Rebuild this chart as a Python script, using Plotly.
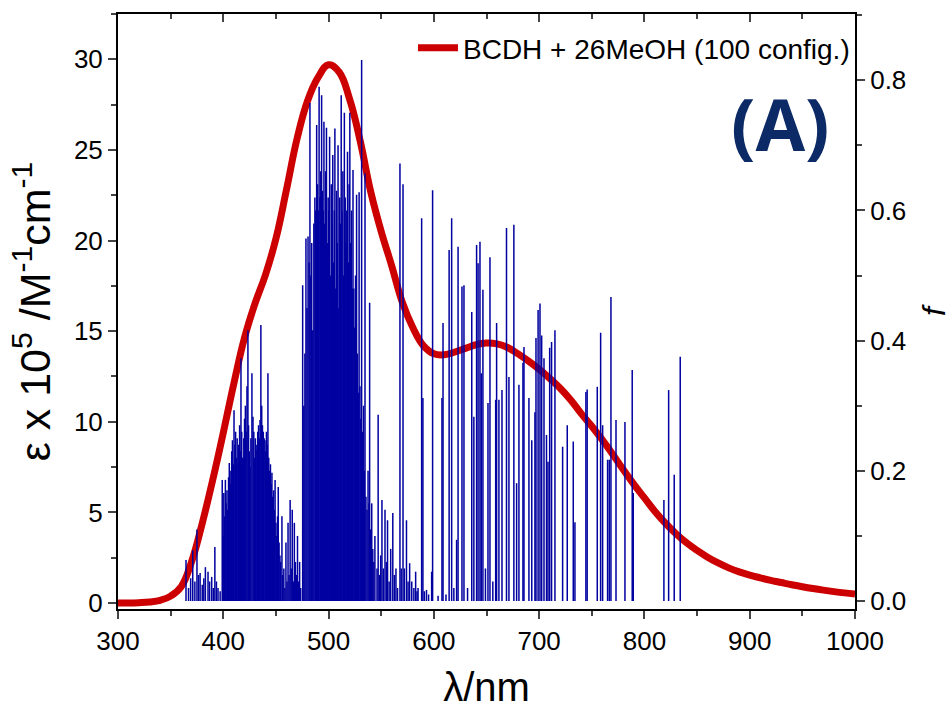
import plotly.graph_objects as go

# ---------------- data ----------------
# Broadened absorption spectrum (epsilon x 10^5 / M^-1 cm^-1), read every 10 nm
curve_nm = [300, 310, 320, 330, 340, 350, 360, 370, 380, 390, 400, 410, 420, 430, 440, 450,
            460, 470, 480, 490, 500, 510, 520, 530, 540, 550, 560, 570, 580, 590, 600, 610,
            620, 630, 640, 650, 660, 670, 680, 690, 700, 710, 720, 730, 740, 750, 760, 770,
            780, 790, 800, 810, 820, 830, 840, 850, 860, 870, 880, 890, 900, 910, 920, 930,
            940, 950, 960, 970, 980, 990, 1000]
curve_eps = [0.0, 0.0, 0.02, 0.06, 0.15, 0.38, 0.9, 2.3, 4.4, 6.8, 9.4, 12.1, 14.6, 16.5, 18.1, 20.1,
             22.8, 25.6, 27.7, 29.0, 29.7, 29.3, 27.8, 25.5, 22.7, 20.5, 18.6, 16.6, 15.2, 14.2, 13.75, 13.7,
             13.85, 14.05, 14.25, 14.35, 14.3, 14.1, 13.75, 13.35, 12.9, 12.4, 11.85, 11.2, 10.45, 9.75, 9.0, 8.2,
             7.35, 6.55, 5.8, 5.05, 4.4, 3.82, 3.32, 2.9, 2.53, 2.21, 1.94, 1.72, 1.54, 1.39, 1.25, 1.13,
             1.01, 0.9, 0.8, 0.71, 0.63, 0.56, 0.5]

# Stick spectrum: excitation wavelengths (nm) and oscillator strengths f
stick_nm = [
    364.6, 367.0, 369.0, 371.0, 373.0, 375.0, 376.5, 378.0, 380.0, 381.5, 383.0, 385.5, 387.0, 389.0,
    390.5, 392.0, 393.5, 395.0, 397.0,
    399.0, 399.8, 400.5, 401.2, 402.0, 402.7, 403.5, 404.2, 405.0, 405.7, 406.5, 407.2, 408.0, 408.7,
    409.5, 410.2, 411.0, 411.7, 412.5, 413.2, 414.0, 414.7, 415.5, 416.2, 416.8, 417.5, 418.2, 418.8,
    419.5, 420.2, 421.0, 421.7, 422.5, 423.4, 424.0, 424.7, 425.4, 426.2, 427.2, 428.2, 429.0, 429.7,
    430.5, 431.2, 432.0, 432.7, 433.5, 434.2, 434.9, 435.7, 436.5, 437.2, 438.0, 438.8, 439.6, 440.3,
    441.0, 441.7, 442.4, 443.2, 444.0, 444.8, 445.5, 446.2, 447.0, 447.8, 448.5, 449.2, 450.0, 450.8,
    451.5, 452.2, 453.0, 453.8, 454.5, 455.7, 456.5, 457.5, 458.5,
    459.5, 460.5, 461.5, 462.5, 463.5, 464.5, 465.5, 466.5, 467.5, 468.5, 469.5, 470.5, 471.5, 472.5,
    473.5,
    475.4, 476.5, 477.5, 478.5, 479.5, 480.5, 481.5, 482.3, 483.2, 484.0, 485.0, 486.0, 487.0, 487.8,
    488.7, 489.5, 490.2, 491.0, 491.8, 492.6, 493.4, 494.2, 495.0, 495.6, 496.4, 497.2, 498.0, 498.8,
    499.6, 500.3, 501.0, 501.8, 502.6, 503.3, 504.0, 504.8, 505.5, 506.0, 506.8, 507.6, 508.3, 509.0,
    509.8, 510.6, 511.3, 512.0, 512.8, 513.6, 514.3, 515.0, 515.8, 516.6, 517.3, 518.0, 518.8, 519.5,
    520.2, 521.0, 521.8, 522.5, 523.2, 524.0, 524.8, 525.6, 526.6, 527.4, 528.2, 529.0, 529.8, 530.6,
    531.4, 532.3, 533.2, 534.0, 534.6, 535.5, 536.5, 537.5, 538.4, 539.0, 540.0, 541.0, 542.0, 543.0,
    544.0,
    546.0, 547.1, 548.5, 549.5, 550.7, 552.0, 553.6, 555.0, 556.0, 557.5, 559.0, 561.0, 562.5, 564.0,
    565.5, 567.8, 569.0, 570.7, 572.0, 574.0, 575.5, 577.0, 579.0, 581.0, 582.7, 584.0, 585.0, 588.4,
    589.6, 591.0, 593.0, 595.0, 597.9, 598.8,
    604.0, 607.7, 608.7, 611.5, 614.5, 616.9, 619.0, 621.6, 623.0, 626.7, 628.6, 632.0, 636.0, 638.0,
    640.6, 642.0, 643.8, 645.0, 646.6, 649.0, 651.4, 653.3, 656.0, 658.7, 659.6, 661.8, 664.7, 669.0,
    671.3, 676.0, 678.6, 680.8, 684.6, 685.6, 690.3, 693.0, 696.0, 697.0, 699.0, 700.8, 702.4, 704.6,
    707.0, 708.4, 710.0, 711.8, 715.0,
    722.3, 726.7, 732.4, 734.0, 744.4, 745.6, 755.2, 758.4, 760.3, 765.0, 766.6, 768.2, 773.0, 781.5,
    788.4, 789.4, 818.5, 823.0, 828.3, 834.0,
]
stick_f = [
    0.063, 0.020, 0.035, 0.078, 0.030, 0.110, 0.040, 0.043, 0.025, 0.035, 0.052, 0.045, 0.030, 0.037,
    0.020, 0.083, 0.030, 0.020, 0.015,
    0.186, 0.100, 0.166, 0.130, 0.186, 0.150, 0.170, 0.140, 0.190, 0.212, 0.180, 0.200, 0.230, 0.247,
    0.210, 0.293, 0.240, 0.260, 0.220, 0.250, 0.210, 0.240, 0.270, 0.230, 0.373, 0.260, 0.220, 0.220,
    0.250, 0.280, 0.300, 0.260, 0.330, 0.416, 0.270, 0.230, 0.206, 0.250, 0.350, 0.283, 0.260, 0.220,
    0.250, 0.240, 0.232, 0.260, 0.270, 0.250, 0.278, 0.424, 0.300, 0.270, 0.260, 0.250, 0.247, 0.230,
    0.260, 0.240, 0.350, 0.220, 0.200, 0.210, 0.180, 0.197, 0.160, 0.170, 0.140, 0.186, 0.120, 0.100,
    0.130, 0.175, 0.090, 0.070, 0.060, 0.130, 0.040, 0.050, 0.020,
    0.090, 0.030, 0.120, 0.040, 0.155, 0.050, 0.140, 0.030, 0.120, 0.060, 0.040, 0.100, 0.030, 0.060,
    0.020,
    0.485, 0.300, 0.380, 0.557, 0.450, 0.560, 0.520, 0.765, 0.500, 0.550, 0.416, 0.580, 0.620, 0.600,
    0.731, 0.640, 0.600, 0.790, 0.620, 0.660, 0.777, 0.630, 0.600, 0.736, 0.580, 0.660, 0.727, 0.550,
    0.620, 0.600, 0.713, 0.500, 0.640, 0.580, 0.685, 0.520, 0.600, 0.726, 0.480, 0.630, 0.550, 0.700,
    0.450, 0.620, 0.580, 0.777, 0.600, 0.660, 0.500, 0.750, 0.620, 0.550, 0.600, 0.690, 0.520, 0.640,
    0.750, 0.550, 0.600, 0.480, 0.662, 0.480, 0.420, 0.500, 0.624, 0.380, 0.320, 0.628, 0.330, 0.280,
    0.831, 0.260, 0.300, 0.200, 0.657, 0.160, 0.140, 0.200, 0.150, 0.458, 0.110, 0.150, 0.080, 0.060,
    0.100,
    0.050, 0.286, 0.040, 0.070, 0.155, 0.050, 0.140, 0.060, 0.124, 0.030, 0.080, 0.135, 0.040, 0.050,
    0.020, 0.672, 0.050, 0.640, 0.050, 0.124, 0.030, 0.058, 0.030, 0.020, 0.045, 0.015, 0.020, 0.588,
    0.312, 0.015, 0.017, 0.010, 0.045, 0.631,
    0.008, 0.312, 0.427, 0.010, 0.539, 0.588, 0.020, 0.094, 0.544, 0.483, 0.485, 0.020, 0.444, 0.283,
    0.547, 0.519, 0.552, 0.350, 0.478, 0.050, 0.304, 0.528, 0.030, 0.309, 0.427, 0.309, 0.324, 0.573,
    0.344, 0.578, 0.181, 0.332, 0.366, 0.390, 0.312, 0.247, 0.290, 0.404, 0.447, 0.457, 0.408, 0.373,
    0.255, 0.214, 0.389, 0.398, 0.416,
    0.237, 0.270, 0.245, 0.121, 0.321, 0.325, 0.329, 0.412, 0.270, 0.217, 0.217, 0.467, 0.278, 0.275,
    0.355, 0.166, 0.155, 0.324, 0.194, 0.375,
]

x_ticks = [300, 400, 500, 600, 700, 800, 900, 1000]
eps_ticks = [0, 5, 10, 15, 20, 25, 30]
f_ticks = [0.0, 0.2, 0.4, 0.6, 0.8]

legend_label = "BCDH + 26MeOH (100 config.)"
panel_label = "(A)"

# ---------------- build stick segments ----------------
sx, sy = [], []
for lam, fv in zip(stick_nm, stick_f):
    sx += [lam, lam, None]
    sy += [0, fv, None]

FONT = "Liberation Sans, Arial, sans-serif"

fig = go.Figure()
fig.add_trace(go.Scatter(x=sx, y=sy, mode="lines", yaxis="y2",
                         line=dict(color="#0000A0", width=1.5), showlegend=False,
                         hoverinfo="skip"))
fig.add_trace(go.Scatter(x=curve_nm, y=curve_eps, mode="lines", name=legend_label,
                         line=dict(color="#CC0000", width=7, shape="spline", smoothing=1.2)))
# invisible trace to anchor the top (mirror) axis
fig.add_trace(go.Scatter(x=[300], y=[0], xaxis="x2", mode="markers",
                         marker=dict(opacity=0), showlegend=False, hoverinfo="skip"))

fig.update_layout(
    width=952, height=713,
    margin=dict(l=118, r=97, t=14, b=104, autoexpand=False),
    paper_bgcolor="white", plot_bgcolor="white",
    font=dict(family=FONT, color="black", size=26),
    xaxis=dict(range=[300, 1000], tickvals=x_ticks, ticks="outside", ticklen=8, tickwidth=2,
               minor=dict(ticks="outside", ticklen=5, tickwidth=2, dtick=50, tick0=300),
               showline=True, linecolor="black", linewidth=2, showgrid=False, zeroline=False,
               automargin=False,
               tickfont=dict(size=26), title=dict(text="λ/nm", font=dict(size=40), standoff=18)),
    xaxis2=dict(range=[300, 1000], overlaying="x", side="top", tickvals=x_ticks, ticks="inside",
                ticklen=8, tickwidth=2,
                minor=dict(ticks="inside", ticklen=5, tickwidth=2, dtick=50, tick0=300),
                showticklabels=False, showline=True, linecolor="black", linewidth=2,
                showgrid=False, zeroline=False, automargin=False),
    yaxis=dict(range=[-0.33, 32.5], tickvals=eps_ticks, ticks="outside", ticklen=8, tickwidth=2,
               minor=dict(ticks="outside", ticklen=5, tickwidth=2, dtick=2.5, tick0=0),
               showline=True, linecolor="black", linewidth=2, showgrid=False, zeroline=False,
               automargin=False, tickfont=dict(size=26),
               title=dict(text="ε x 10<sup>5</sup> /M<sup>-1</sup>cm<sup>-1</sup>",
                          font=dict(size=43), standoff=10)),
    yaxis2=dict(range=[-0.0123, 0.9017], overlaying="y", side="right", tickvals=f_ticks,
                tickformat=".1f", ticks="outside", ticklen=8, tickwidth=2,
                minor=dict(ticks="outside", ticklen=5, tickwidth=2, dtick=0.1, tick0=0),
                showline=True, linecolor="black", linewidth=2, showgrid=False, zeroline=False,
                automargin=False, tickfont=dict(size=26),
                title=dict(text="<i>f</i>", font=dict(size=32), standoff=20)),
    legend=dict(x=1.0, xanchor="right", y=0.985, yanchor="top", bgcolor="rgba(0,0,0,0)",
                font=dict(size=28, family=FONT), itemwidth=40, tracegroupgap=0),
    annotations=[dict(text="<b>" + panel_label + "</b>", x=0.898, y=0.817, xref="paper",
                      yref="paper", xanchor="center", yanchor="middle", showarrow=False,
                      font=dict(family="Open Sans, sans-serif", size=72, color="#0B2A66"))],
)

fig.write_html("out.html")
